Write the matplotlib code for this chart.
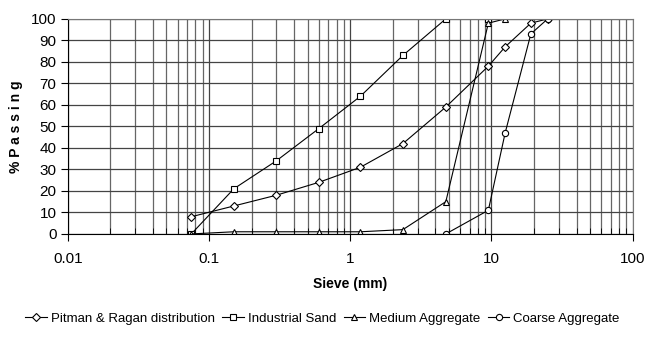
import matplotlib.pyplot as plt
from matplotlib.ticker import LogLocator, NullFormatter, FixedLocator

# sieve sizes (mm) and % passing for each material
pitman_x = [0.075, 0.15, 0.3, 0.6, 1.18, 2.36, 4.75, 9.5, 12.5, 19, 25]
pitman_y = [8, 13, 18, 24, 31, 42, 59, 78, 87, 98, 100]

sand_x = [0.075, 0.15, 0.3, 0.6, 1.18, 2.36, 4.75, 9.5]
sand_y = [0, 21, 34, 49, 64, 83, 100, 100]

medium_x = [0.075, 0.15, 0.3, 0.6, 1.18, 2.36, 4.75, 9.5, 12.5]
medium_y = [0, 1, 1, 1, 1, 2, 15, 98, 100]

coarse_x = [4.75, 9.5, 12.5, 19, 25]
coarse_y = [0, 11, 47, 93, 100]

labels = ["Pitman & Ragan distribution", "Industrial Sand", "Medium Aggregate", "Coarse Aggregate"]

plt.rcParams['font.family'] = ['Liberation Sans', 'DejaVu Sans']

fig = plt.figure(figsize=(6.45, 3.43), dpi=100)
ax = fig.add_axes([0.105, 0.318, 0.876, 0.627])

mk = dict(color='black', lw=0.8, markerfacecolor='white', markeredgecolor='black', markersize=4.5, markeredgewidth=0.8)
ax.plot(pitman_x, pitman_y, marker='D', label=labels[0], **{**mk, 'markersize': 3.8})
ax.plot(sand_x, sand_y, marker='s', label=labels[1], **mk)
ax.plot(medium_x, medium_y, marker='^', label=labels[2], **mk)
ax.plot(coarse_x, coarse_y, marker='o', label=labels[3], **mk)

ax.set_xscale('log')
ax.set_xlim(0.01, 100)
ax.set_ylim(0, 100)
ax.yaxis.set_major_locator(FixedLocator(range(0, 101, 10)))
ax.xaxis.set_major_locator(FixedLocator([0.01, 0.1, 1, 10, 100]))
ax.xaxis.set_minor_locator(LogLocator(base=10, subs=range(2, 10)))
ax.xaxis.set_minor_formatter(NullFormatter())
ax.set_xticklabels(['0.01', '0.1', '1', '10', '100'])

ax.grid(True, which='major', axis='both', color='#444444', lw=0.9)
ax.grid(True, which='minor', axis='x', color='#666666', lw=0.9)
ax.set_axisbelow(True)
for s in ax.spines.values():
    s.set_color('#777777')
ax.spines['left'].set_color('black')
ax.spines['bottom'].set_color('black')
ax.tick_params(axis='both', which='major', labelsize=11, length=5, direction='out', pad=8)
ax.tick_params(axis='x', which='minor', length=4, direction='in')
ax.tick_params(axis='y', pad=3)

ax.set_xlabel('Sieve (mm)', fontsize=10, fontweight='bold', labelpad=8)
ax.set_ylabel('% P a s s i n g', fontsize=10, fontweight='bold', labelpad=6)

fig.legend(loc='center', bbox_to_anchor=(0.5, 0.07), ncol=4, frameon=False, fontsize=9.5,
           handlelength=1.6, handletextpad=0.3, columnspacing=0.6, borderaxespad=0)

fig.savefig('out.png', dpi=100)
